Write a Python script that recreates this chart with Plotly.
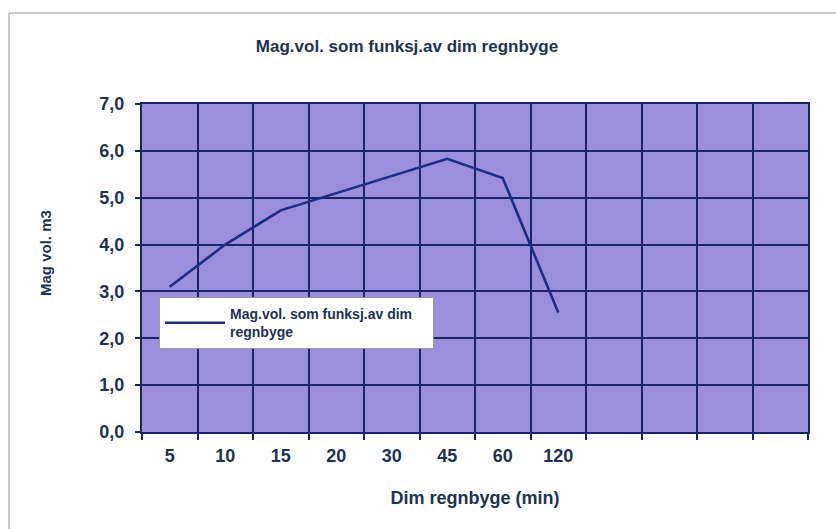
import plotly.graph_objects as go

# ---- data ----
categories = ["5", "10", "15", "20", "30", "45", "60", "120"]
empty_categories = [" ", "  ", "   ", "    "]
mag_vol = [3.1, 4.0, 4.73, 5.1, 5.47, 5.83, 5.42, 2.55]
y_ticks = [0, 1, 2, 3, 4, 5, 6, 7]
y_tick_labels = ["0,0", "1,0", "2,0", "3,0", "4,0", "5,0", "6,0", "7,0"]
series_name = "Mag.vol. som funksj.av dim&nbsp;&nbsp;&nbsp;&nbsp;<br>regnbyge"
title_text = "Mag.vol. som funksj.av dim regnbyge"
x_title = "Dim regnbyge (min)"
y_title = "Mag vol. m3"

W, H = 836, 529
ML, MR, MT, MB = 142, 28, 104, 97
PW, PH = W - ML - MR, H - MT - MB

TXT = "#1d3352"
GRID = "#1b2468"
FONT = "Liberation Sans, Arial, sans-serif"

fig = go.Figure()
fig.add_trace(go.Scatter(
    x=categories, y=mag_vol, mode="lines", name=series_name,
    line=dict(color="#1c2d86", width=2.6),
))

def px_x(x):
    return (x - ML) / PW

def px_y(y):
    return (H - MB - y) / PH

border = "#b4b4bc"
shapes = [
    dict(type="line", xref="paper", yref="paper", x0=px_x(9), x1=px_x(9),
         y0=px_y(13), y1=px_y(529), line=dict(color=border, width=1.5)),
    dict(type="line", xref="paper", yref="paper", x0=px_x(9), x1=px_x(836),
         y0=px_y(13), y1=px_y(13), line=dict(color=border, width=1.5)),
]

fig.update_layout(
    width=W, height=H,
    margin=dict(l=ML, r=MR, t=MT, b=MB, autoexpand=False),
    paper_bgcolor="white",
    plot_bgcolor="#9b8edc",
    font=dict(family=FONT, color=TXT),
    title=dict(text="<b>" + title_text + "</b>", x=407 / W, xanchor="center",
               y=1 - 46 / H, yanchor="middle", yref="container",
               font=dict(size=17, color=TXT, family=FONT)),
    showlegend=True,
    legend=dict(x=px_x(159), y=px_y(297), xanchor="left", yanchor="top",
                bgcolor="white", bordercolor="#9a9aa0", borderwidth=1,
                font=dict(size=14, color=TXT, family=FONT, weight="bold"),
                itemwidth=60),
    shapes=shapes,
    annotations=[dict(text="<b>" + y_title + "</b>", textangle=-90,
                      xref="paper", yref="paper", x=px_x(45), y=px_y(253),
                      xanchor="center", yanchor="middle", showarrow=False,
                      font=dict(size=15, color=TXT, family=FONT))],
)

fig.update_xaxes(
    type="category",
    categoryorder="array",
    categoryarray=categories + empty_categories,
    range=[-0.5, len(categories) + len(empty_categories) - 0.5],
    tickson="boundaries",
    showgrid=True, gridcolor=GRID, gridwidth=2,
    showline=True, linecolor=GRID, linewidth=2, mirror=True,
    ticks="outside", ticklen=6, tickcolor=GRID, tickwidth=2,
    tickfont=dict(size=18, color=TXT, family=FONT, weight="bold"),
    ticklabelstandoff=6,
    title=dict(text=x_title, standoff=27,
               font=dict(size=18, color=TXT, family=FONT, weight="bold")),
    fixedrange=True,
)
fig.update_yaxes(
    range=[0, 7],
    tickmode="array", tickvals=y_ticks, ticktext=y_tick_labels,
    showgrid=True, gridcolor=GRID, gridwidth=2,
    showline=True, linecolor=GRID, linewidth=2, mirror=True,
    ticks="outside", ticklen=5, tickcolor=GRID, tickwidth=2,
    tickfont=dict(size=18, color=TXT, family=FONT, weight="bold"),
    ticklabelstandoff=7,
    zeroline=False,
    fixedrange=True,
)

fig.write_html("out.html", config={"displayModeBar": False})

# remove the default page margin so the figure sits at the window origin
with open("out.html", "r", encoding="utf-8") as f:
    html = f.read()
html = html.replace("<body>", '<body style="margin:0;padding:0;">', 1)
with open("out.html", "w", encoding="utf-8") as f:
    f.write(html)
